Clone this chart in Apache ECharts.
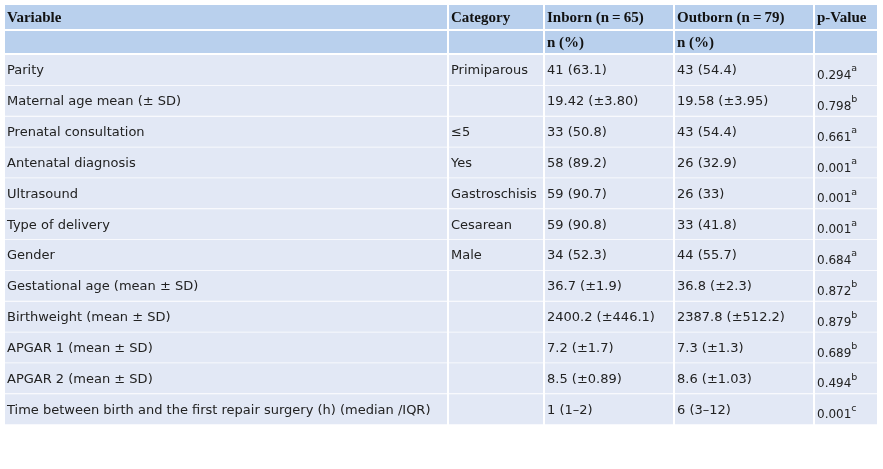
<!DOCTYPE html>
<html><head><meta charset="utf-8">
<script src="https://cdn.jsdelivr.net/npm/echarts@6/dist/echarts.min.js"></script>
<style>html,body{margin:0;padding:0;background:#fff}#c{width:883px;height:469px}</style>
</head><body><div id="c"></div>
<script>
const headers = ["Variable","Category","Inborn (n\u2009=\u200965)","Outborn (n\u2009=\u200979)","p-Value"];
const subHeaders = ["","","n (%)","n (%)",""];
const variables = ["Parity","Maternal age mean (± SD)","Prenatal consultation","Antenatal diagnosis","Ultrasound","Type of delivery","Gender","Gestational age (mean ± SD)","Birthweight (mean ± SD)","APGAR 1 (mean ± SD)","APGAR 2 (mean ± SD)","Time between birth and the first repair surgery (h) (median /IQR)"];
const categories = ["Primiparous","","≤5","Yes","Gastroschisis","Cesarean","Male","","","","",""];
const inborn = ["41 (63.1)","19.42 (±3.80)","33 (50.8)","58 (89.2)","59 (90.7)","59 (90.8)","34 (52.3)","36.7 (±1.9)","2400.2 (±446.1)","7.2 (±1.7)","8.5 (±0.89)","1 (1–2)"];
const outborn = ["43 (54.4)","19.58 (±3.95)","43 (54.4)","26 (32.9)","26 (33)","33 (41.8)","44 (55.7)","36.8 (±2.3)","2387.8 (±512.2)","7.3 (±1.3)","8.6 (±1.03)","6 (3–12)"];
const pValues = ["0.294","0.798","0.661","0.001","0.001","0.001","0.684","0.872","0.879","0.689","0.494","0.001"];
const pNotes = ["a","b","a","a","a","a","a","b","b","b","b","c"];

const colX = [5,449,545,675,815,879];
const els = [];
const headFill = "#b9d0ed", bodyFill = "#e2e8f5";
function cell(x0,x1,y0,y1,fill){els.push({type:'rect',shape:{x:x0,y:y0,width:x1-x0-2,height:y1-y0-2},style:{fill:fill},silent:true});}
const serif='Liberation Serif';
const sans='DejaVu Sans';
const hy=[5,31,55];
for(let r=0;r<2;r++){
  const row = r===0?headers:subHeaders;
  for(let c=0;c<5;c++){
    cell(colX[c],colX[c+1],hy[r],hy[r+1],headFill);
    if(row[c]) els.push({type:'text',silent:true,style:{text:row[c],x:colX[c]+2,y:(hy[r]+hy[r+1]-2)/2+1,fill:'#111',fontFamily:serif,fontSize:15,fontWeight:'bold',verticalAlign:'middle'}});
  }
}
const rowH=(425-55)/12;
for(let i=0;i<variables.length;i++){
  const y0=55+i*rowH, y1=y0+rowH+1.2, ym=(y0+y1-2)/2+1;
  const vals=[variables[i],categories[i],inborn[i],outborn[i]];
  for(let c=0;c<5;c++){cell(colX[c],colX[c+1],y0,y1,bodyFill);}
  for(let c=0;c<4;c++) if(vals[c]) els.push({type:'text',silent:true,style:{text:vals[c],x:colX[c]+2,y:ym,fill:'#222',fontFamily:sans,fontSize:13,verticalAlign:'middle'}});
  els.push({type:'text',silent:true,style:{text:'{v|'+pValues[i]+'}{s|'+pNotes[i]+'}',x:colX[4]+2,y:ym+2,fill:'#222',fontFamily:sans,verticalAlign:'middle',
    rich:{v:{fontFamily:sans,fontSize:12,fill:'#222',verticalAlign:'bottom'},s:{fontFamily:sans,fontSize:9.5,fill:'#222',verticalAlign:'top',padding:[0,0,8,0]}}}});
}
const chart=echarts.init(document.getElementById('c'));
chart.setOption({animation:false,graphic:{elements:els}});
</script></body></html>
